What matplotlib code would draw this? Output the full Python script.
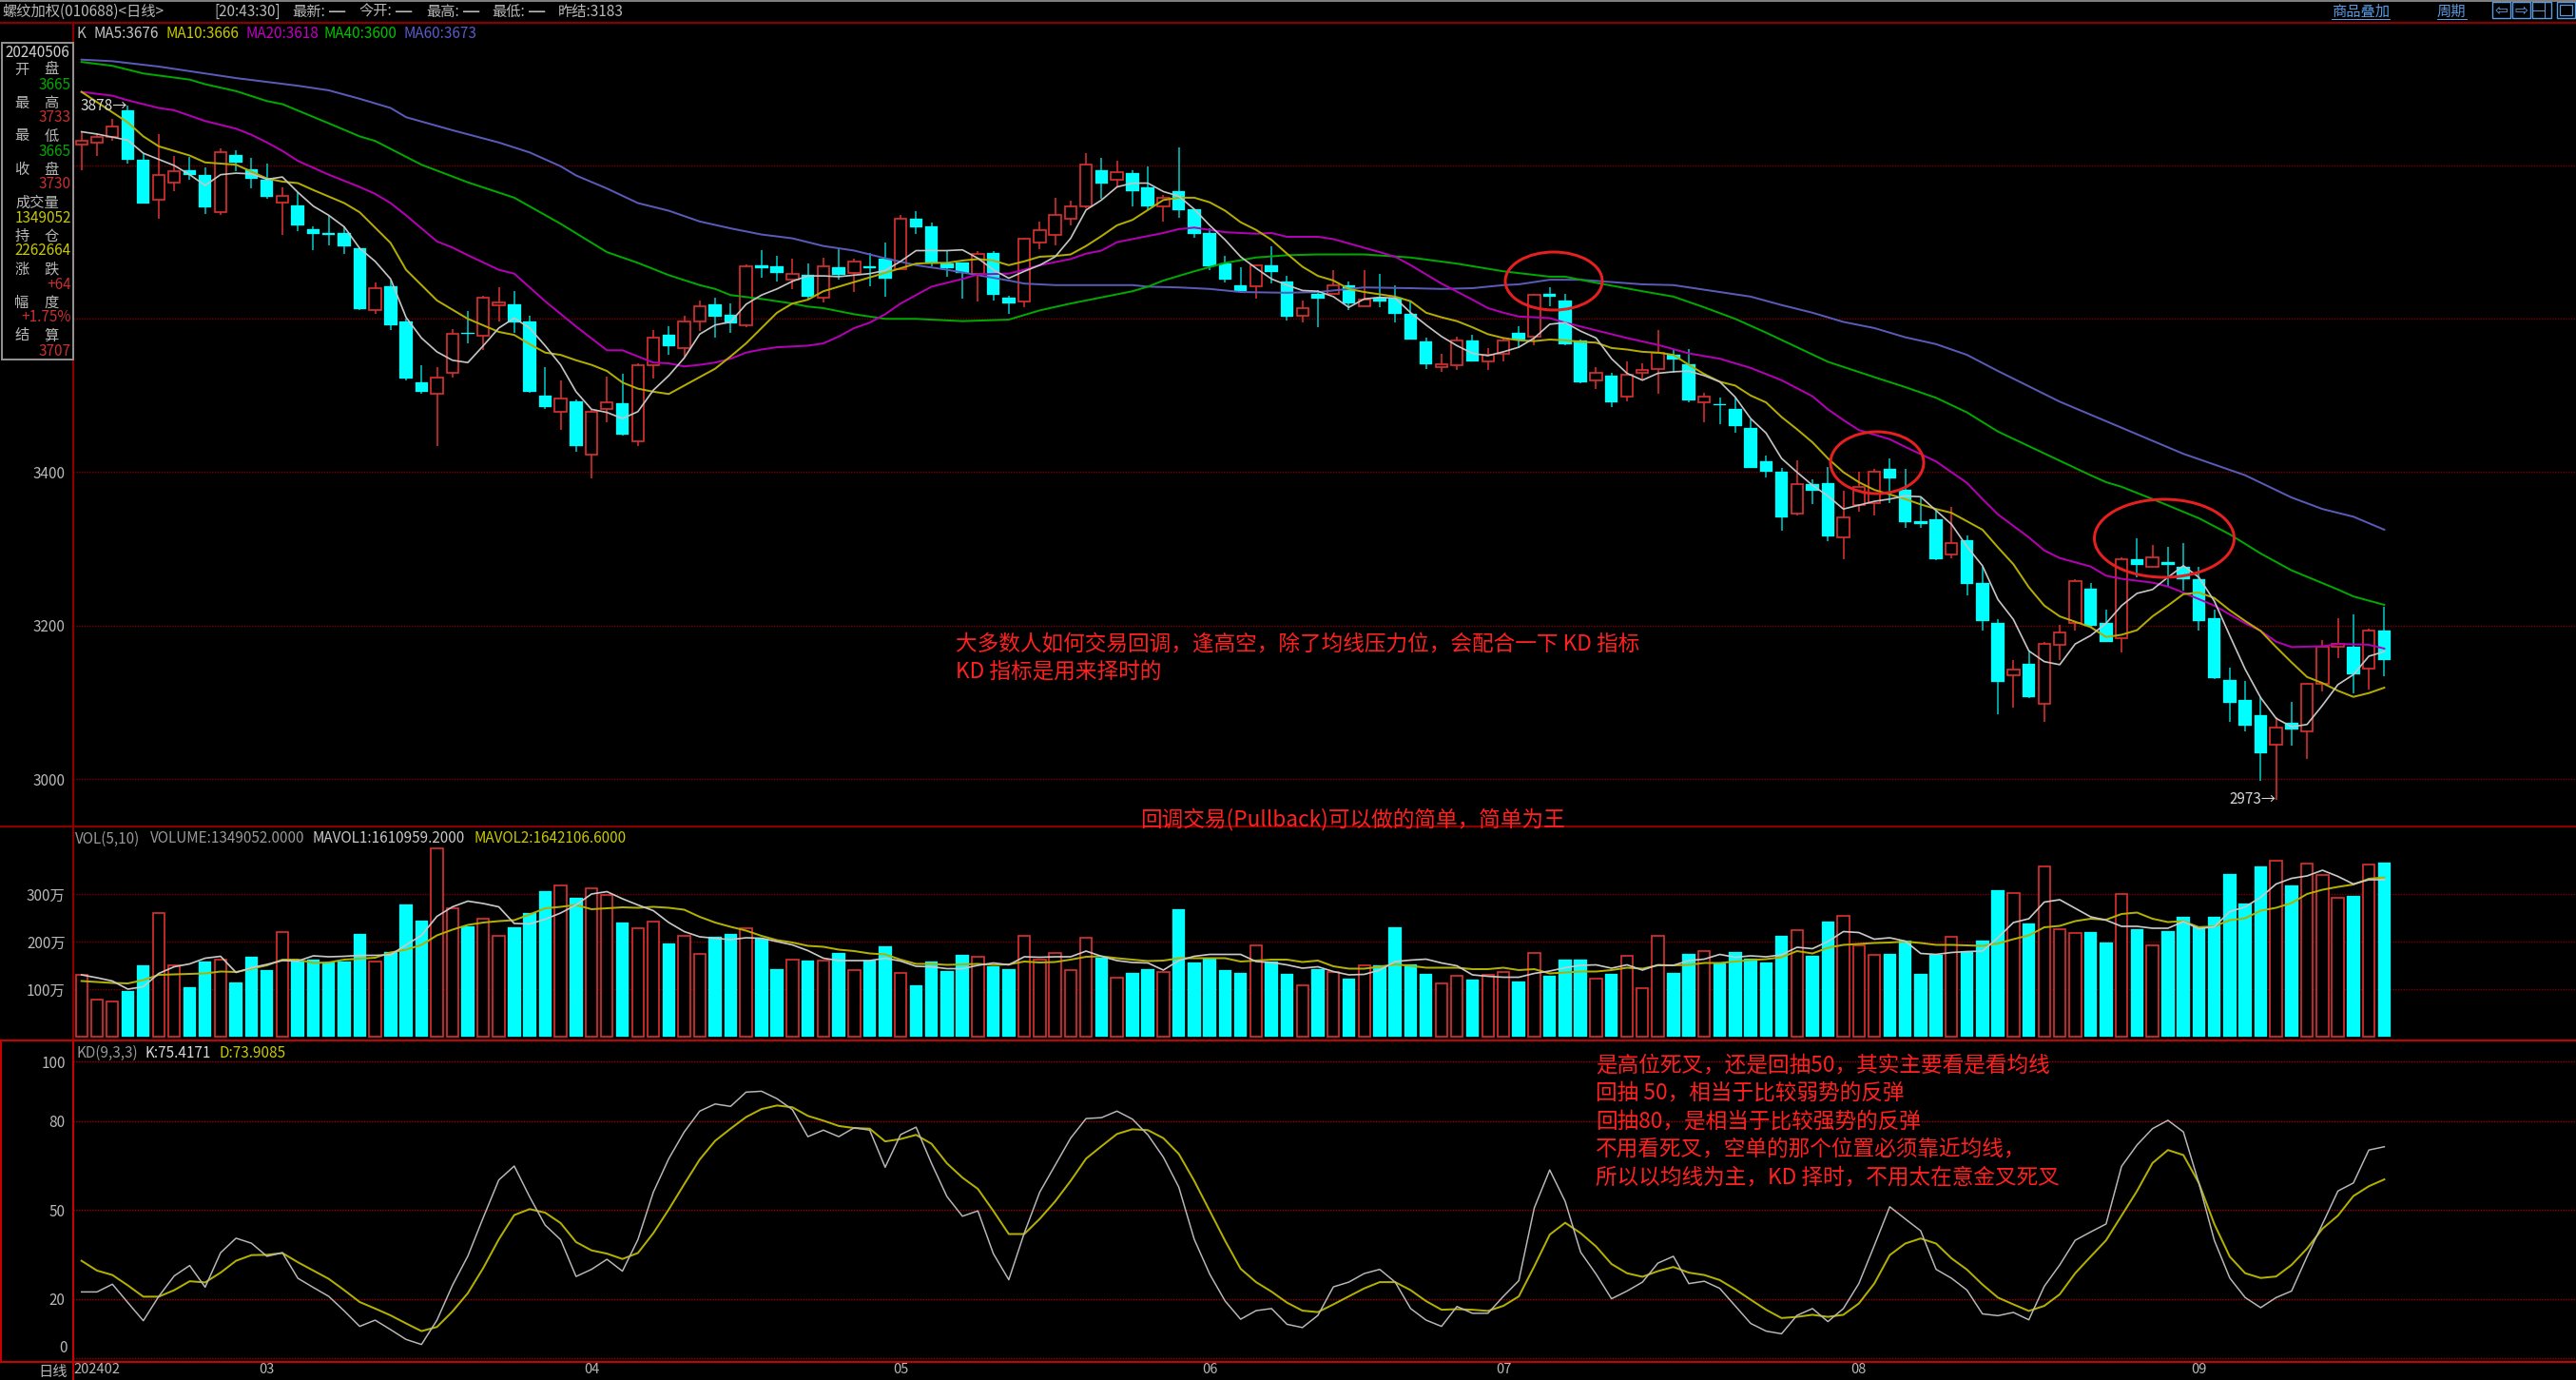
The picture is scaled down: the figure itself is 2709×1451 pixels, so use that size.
import matplotlib
matplotlib.use("Agg")
import matplotlib.pyplot as plt
from matplotlib.patches import Ellipse, Rectangle

FONT = ['Noto Sans CJK SC', 'DejaVu Sans']
plt.rcParams['font.family'] = FONT

# ---------- candles ----------
opens = [3827,3830,3837,3872,3808,3755,3778,3794,3787,3739,
         3814,3795,3782,3752,3748,3717,3712,3712,3692,3611,
         3642,3596,3517,3502,3529,3582,3578,3618,3619,3596,
         3500,3479,3492,3423,3482,3490,3440,3539,3579,3562,
         3597,3619,3605,3592,3670,3668,3651,3657,3627,3667,
         3660,3669,3678,3665,3730,3720,3672,3673,3659,3686,
         3627,3623,3699,3710,3730,3747,3794,3781,3790,3771,
         3747,3766,3743,3712,3672,3644,3642,3670,3649,3604,
         3633,3632,3644,3617,3628,3627,3607,3571,3537,3539,
         3572,3544,3555,3582,3577,3632,3624,3572,3520,3526,
         3498,3530,3535,3553,3541,3491,3489,3482,3458,3414,
         3401,3346,3385,3386,3315,3357,3360,3404,3377,3336,
         3339,3293,3311,3256,3204,3135,3150,3098,3175,3204,
         3248,3203,3183,3286,3276,3283,3277,3261,3210,3129,
         3103,3083,3045,3073,3062,3124,3172,3172,3144,3193]
closes = [3832,3837,3851,3807,3751,3788,3792,3787,3745,3817,
          3804,3783,3759,3760,3722,3711,3710,3694,3613,3640,
          3592,3522,3505,3524,3580,3580,3627,3621,3595,3505,
          3485,3496,3434,3479,3491,3449,3540,3575,3564,3597,
          3616,3603,3594,3668,3666,3660,3658,3629,3668,3657,
          3675,3666,3652,3730,3719,3672,3666,3660,3685,3631,
          3620,3704,3716,3735,3747,3801,3776,3791,3766,3747,
          3758,3742,3711,3669,3651,3636,3670,3661,3603,3614,
          3626,3644,3620,3625,3623,3606,3573,3541,3541,3572,
          3544,3553,3572,3573,3631,3629,3567,3517,3530,3491,
          3527,3533,3556,3547,3494,3499,3487,3460,3406,3400,
          3341,3385,3376,3316,3341,3381,3400,3392,3335,3333,
          3286,3307,3254,3206,3127,3143,3107,3176,3191,3258,
          3200,3179,3286,3279,3289,3279,3260,3206,3131,3099,
          3069,3034,3067,3065,3124,3173,3176,3136,3193,3155]
highs = [3844,3842,3861,3878,3816,3841,3813,3811,3797,3822,
         3820,3810,3802,3771,3765,3721,3734,3720,3693,3647,
         3650,3600,3540,3537,3587,3610,3630,3641,3636,3604,
         3537,3520,3495,3481,3525,3528,3542,3585,3590,3604,
         3624,3627,3620,3671,3690,3682,3678,3672,3680,3691,
         3679,3686,3700,3735,3740,3726,3689,3674,3688,3688,
         3630,3706,3727,3758,3754,3816,3810,3806,3794,3799,
         3761,3823,3743,3718,3682,3667,3670,3695,3656,3624,
         3637,3664,3649,3663,3658,3644,3623,3575,3555,3577,
         3579,3562,3575,3590,3633,3641,3632,3573,3537,3530,
         3545,3542,3585,3561,3560,3503,3497,3497,3469,3422,
         3405,3415,3391,3407,3376,3400,3404,3418,3404,3367,
         3352,3355,3317,3276,3208,3155,3168,3179,3201,3260,
         3256,3221,3289,3314,3305,3303,3308,3277,3221,3145,
         3128,3108,3081,3101,3124,3181,3209,3215,3196,3224]
lows = [3794,3812,3832,3802,3750,3730,3767,3781,3737,3736,
        3792,3770,3756,3710,3714,3689,3696,3685,3612,3607,
        3586,3520,3502,3434,3524,3568,3559,3596,3582,3503,
        3483,3455,3427,3392,3465,3448,3434,3522,3553,3551,
        3584,3575,3582,3589,3654,3649,3639,3625,3621,3651,
        3635,3643,3629,3665,3711,3668,3655,3626,3623,3624,
        3607,3615,3691,3696,3722,3744,3757,3771,3747,3742,
        3727,3732,3706,3663,3648,3636,3626,3646,3598,3595,
        3589,3632,3612,3617,3615,3595,3573,3535,3531,3533,
        3544,3533,3544,3562,3565,3617,3566,3516,3508,3485,
        3493,3520,3502,3530,3491,3465,3463,3451,3406,3393,
        3324,3344,3358,3310,3287,3349,3344,3360,3327,3327,
        3285,3288,3239,3193,3084,3093,3105,3074,3155,3193,
        3197,3179,3165,3263,3276,3252,3245,3193,3130,3075,
        3062,2998,2973,3043,3026,3114,3158,3112,3117,3134]

# ---------- price moving averages ----------
ma5 = [3844,3841,3837,3833,3816,3808,3800,3788,3774,3788,
       3790,3789,3782,3785,3765,3747,3735,3720,3692,3675,
       3652,3602,3575,3557,3546,3543,3565,3588,3601,3588,
       3565,3540,3505,3482,3478,3470,3479,3507,3526,3549,
       3580,3592,3596,3619,3631,3639,3649,3656,3656,3655,
       3657,3659,3663,3675,3689,3689,3689,3690,3679,3664,
       3653,3662,3670,3681,3705,3742,3755,3772,3777,3777,
       3766,3760,3743,3722,3703,3681,3666,3652,3644,3637,
       3636,3629,3615,3626,3628,3627,3608,3592,3577,3565,
       3555,3552,3557,3563,3575,3593,3595,3584,3575,3548,
       3529,3520,3529,3531,3532,3526,3518,3498,3470,3451,
       3418,3400,3383,3369,3352,3357,3362,3365,3369,3368,
       3350,3332,3303,3278,3234,3208,3167,3153,3149,3176,
       3187,3203,3226,3242,3247,3263,3278,3263,3232,3187,
       3143,3106,3079,3068,3071,3096,3123,3136,3160,3166]
ma10_idx = [0,3,4,5,7,8,10,12,13,14,15,17,18,20,21,23,25,27,28,29,30,31,32,33,34,35,36,37,38,39,
            40,41,42,43,44,45,46,47,48,49,50,51,52,53,54,55,56,57,58,59,60,61,62,63,64,65,66,67,68,69,
            70,71,72,73,74,75,76,77,78,79,80,81,82,83,84,85,86,87,88,89,90,91,92,93,94,95,96,97,98,99,
            100,101,102,103,104,105,106,107,108,109,110,111,112,113,114,115,116,117,118,119,
            120,121,122,123,124,125,126,127,128,129,130,131,132,133,134,135,136,137,138,139,
            140,141,142,143,144,145,146,147,148,149]
ma10_val = [3896,3856,3838,3825,3813,3804,3801,3783,3779,3777,3768,3751,3739,3699,3664,3624,3600,3583,3579,3567,3556,3553,3546,3540,3532,3517,3509,3505,3502,3513,
            3524,3535,3551,3568,3588,3608,3620,3625,3636,3642,3648,3654,3660,3666,3672,3673,3673,3676,3678,3676,3670,3675,3681,3682,3684,3695,3708,3722,3729,3742,
            3755,3758,3758,3752,3741,3726,3716,3703,3685,3668,3656,3650,3639,3635,3632,3629,3623,3608,3602,3597,3589,3580,3575,3572,3571,3573,3572,3570,3569,3562,
            3560,3557,3556,3553,3540,3528,3518,3513,3500,3491,3472,3456,3439,3418,3400,3387,3377,3371,3365,3358,
            3352,3347,3336,3325,3302,3280,3250,3226,3212,3205,3198,3185,3188,3194,3212,3226,3241,3243,3236,3220,
            3206,3193,3172,3152,3133,3125,3115,3107,3112,3119]
ma20_idx = [0,2,3,5,6,8,10,11,12,13,14,16,18,19,20,21,22,23,24,25,27,28,30,32,34,35,36,37,38,39,40,41,42,43,44,45,47,48,49,50,
            51,52,53,54,55,56,57,58,60,61,62,64,65,66,67,69,70,71,72,74,76,77,78,80,81,84,85,86,88,90,91,92,93,95,96,97,99,100,102,
            104,106,108,110,112,113,114,115,117,118,120,122,123,124,126,127,128,130,131,132,134,135,136,138,140,141,142,143,145,146,148,149]
ma20_val = [3896,3891,3885,3875,3872,3858,3848,3840,3830,3819,3806,3788,3772,3763,3751,3735,3718,3701,3693,3683,3664,3659,3623,3590,3559,3559,3551,3543,3542,3538,3540,3543,3548,3556,3560,3563,3565,3568,3577,3588,
            3595,3606,3620,3631,3642,3647,3652,3658,3659,3664,3670,3678,3685,3689,3700,3708,3712,3717,3719,3713,3711,3712,3707,3707,3704,3687,3681,3670,3646,3625,3614,3608,3603,3601,3595,3590,3580,3575,3566,
            3555,3548,3536,3520,3499,3482,3468,3455,3443,3433,3414,3386,3365,3345,3315,3298,3288,3277,3265,3261,3256,3251,3243,3226,3203,3193,3179,3172,3173,3176,3175,3170]
ma40_idx = [0,2,4,7,8,10,12,13,16,18,19,22,25,28,31,34,36,38,40,41,42,44,46,47,48,50,52,54,57,60,62,64,66,68,69,70,72,74,76,78,80,
            83,86,89,92,95,96,98,101,103,105,107,109,111,113,116,118,120,122,124,130,131,132,134,137,139,141,143,146,147,149]
ma40_val = [3935,3930,3920,3912,3906,3897,3884,3880,3855,3838,3832,3801,3778,3758,3724,3687,3673,3657,3644,3639,3631,3626,3620,3616,3614,3606,3600,3600,3597,3599,3611,3620,3628,3636,3642,3650,3662,3673,3680,3683,3684,
            3684,3680,3672,3662,3655,3655,3647,3636,3629,3615,3600,3582,3563,3544,3524,3511,3497,3478,3453,3396,3387,3381,3365,3340,3319,3294,3272,3247,3238,3227]
ma60_idx = [0,2,5,10,14,16,18,20,21,24,27,29,31,32,34,36,38,40,42,44,46,48,50,52,54,56,58,60,61,63,68,69,71,73,75,78,80,
            83,86,88,90,92,93,95,97,101,103,105,108,110,112,114,116,118,120,122,124,128,132,136,140,143,145,147,149]
ma60_val = [3938,3936,3929,3914,3904,3898,3887,3875,3863,3846,3830,3817,3799,3787,3770,3751,3741,3727,3718,3710,3705,3695,3689,3679,3670,3664,3657,3650,3646,3644,3644,3642,3641,3639,3635,3634,3635,
            3641,3640,3639,3640,3644,3645,3651,3651,3645,3644,3638,3629,3618,3608,3596,3588,3576,3567,3553,3532,3492,3458,3424,3396,3367,3352,3342,3325]

# ---------- volume, in units of 万 ----------
volume = [131,78,75,96,151,261,151,105,158,163,
          115,169,141,221,158,163,156,159,216,158,
          178,279,245,397,270,233,248,213,231,261,
          306,318,293,313,299,241,228,243,196,213,
          175,211,216,228,207,143,163,161,160,176,
          140,160,191,135,109,158,139,173,168,149,
          143,213,163,177,140,208,167,125,135,143,
          137,269,156,165,141,135,193,158,133,108,
          143,137,123,151,151,231,153,133,113,128,
          121,131,137,116,177,129,163,163,123,133,
          171,103,213,135,175,180,155,178,165,156,
          213,225,171,243,255,193,173,175,203,133,
          173,211,178,203,309,303,239,358,227,218,
          221,199,300,226,193,223,253,232,253,343,
          281,359,371,319,365,340,293,296,363,366]
mavol1 = [130,124,117,100,105,133,147,153,165,169,
          135,145,152,160,159,170,168,169,171,171,
          172,193,213,253,273,285,280,273,238,237,
          247,260,277,300,305,290,277,265,240,221,
          210,207,204,208,207,200,193,181,165,160,
          160,160,165,159,148,147,143,143,150,155,
          151,168,167,168,168,180,169,160,156,155,
          140,160,169,173,173,173,158,156,151,144,
          147,137,130,131,140,158,161,163,155,149,
          130,127,125,125,133,138,145,150,151,144,
          151,140,151,150,160,163,173,167,170,168,
          172,188,185,200,221,219,205,208,201,175,
          173,177,179,180,208,240,248,283,288,270,
          252,245,232,232,228,228,242,227,231,263,
          273,293,321,333,338,350,337,321,330,330]
mavol2 = [117,115,113,112,119,130,131,132,133,137,
          136,143,150,162,162,155,156,162,164,166,
          177,183,193,213,225,235,240,243,245,257,
          270,273,277,268,270,272,271,273,271,267,
          252,240,231,223,212,203,198,191,189,183,
          180,175,173,162,153,153,151,152,153,151,
          152,158,156,157,162,168,169,165,162,159,
          160,165,165,165,165,158,160,162,162,157,
          160,148,143,143,147,152,149,145,145,145,
          142,142,145,140,142,133,135,137,137,140,
          145,143,150,150,151,155,155,158,161,163,
          167,180,175,187,193,195,197,198,200,197,
          193,193,192,191,196,205,213,230,233,243,
          248,246,258,261,248,241,243,230,232,245,
          249,265,271,281,300,309,315,320,332,335]

# ---------- KD ----------
k_line = [22.4,22.4,25,18.8,12.7,20.9,27.8,31.3,24,35.6,
          40.5,38.8,34.4,35.6,27,23.9,20.9,16,10.8,12.9,
          9.7,6.4,4.7,12.9,24.6,34.5,47.5,60.1,64.8,54.4,
          44.9,40,27.6,30,33.4,29.4,40,56,67.3,76.3,
          83.3,85.7,84.9,89.7,90,87.5,83.8,74.7,76.9,74.7,
          77.7,76.9,64.4,75.4,77.9,65.7,54.5,47.9,49.7,35.3,
          26.5,42.2,56,65.1,74.2,80.8,81.1,83.3,80.6,75.3,
          67.8,57.7,40.1,28.4,19.3,13.2,16.1,16.8,11.5,10.4,
          14.5,24.1,25.7,28.6,30,25.7,16.8,12.9,10.8,17.5,
          15.2,15.2,20.9,26.2,50.7,63.5,52.9,35.8,28.4,20.1,
          22.7,25.7,32.1,34.4,25.2,26,23.6,17.7,11.8,9.2,
          8.3,14.5,16.8,12.4,16.8,25.2,38,51.1,47,43,
          30,27,23,15,14.4,15.5,13,24.3,31.5,39.8,
          42.6,45.3,64.7,71.9,77.4,80.2,76.3,59.1,39.8,27.1,
          20.5,17.1,20.5,22.7,34.3,45.3,56.4,59.1,70.2,71.3]
d_line = [32.9,29.6,28.1,24.6,20.8,20.8,23,26,25.6,28.9,
          32.9,34.8,34.9,35.5,32.4,29.6,26.8,23,19,16.8,
          14.5,11.8,9.2,10.6,15.8,22,30.5,40.1,48.3,50.3,
          49.1,45.6,39.2,36.4,35.3,33.5,35.5,42.2,50.2,58.7,
          67,73.3,77.4,81.3,84,85.2,84.6,81.7,80.1,78.3,
          77.6,77.4,73.1,73.9,75.3,72.3,65.7,60.9,57.1,49.7,
          41.9,41.9,47,52.9,59.8,67.3,71.5,75.6,77.2,76.9,
          74.2,68.9,59.8,49.7,39.6,30.2,25.7,22.5,18.8,16.1,
          15.6,18.2,20.9,23.6,25.7,25.7,23,19.3,16.4,16.6,
          16.4,16,17.7,20.9,31,41.7,45.7,42.2,37.7,31.8,
          28.7,27.5,29.4,30.8,28.9,28.1,26.4,23.3,19.8,16.4,
          13.6,14,14.7,14,14.7,18.5,25.2,34.8,38.7,40.4,
          38.7,33.7,29.9,24.9,20.5,18.2,16,17.7,21.6,28.7,
          34.3,39.8,48.1,56.4,65.8,70.2,68.5,59.1,45.3,34.3,
          28.7,27.1,27.6,31.5,37,43.7,48.1,54.7,58,60.3]

# ---------- ticks and labels ----------
price_grid = [3000,3200,3400,3600,3800]
price_labels = [3000,3200,3400]
vol_ticks = [100,200,300]
vol_labels = ['100万','200万','300万']
kd_grid = [0,20,50,80,100]
kd_labels = [20,50,80,100]
month_pos = [1,12,33,53,73,92,115,137]
month_lab = ['202402','03','04','05','06','07','08','09']

W, H = 2709, 1451
BG = '#000000'; GRID = '#7a0000'; FRAME = '#8a0000'; BRIGHT = '#c80000'
UP = '#d83030'; DOWN = '#00ffff'; WICK_DOWN = '#00c4c4'; TXT = '#b8b8b8'
C5, C10, C20, C40, C60 = '#c4c4c4', '#b4ac00', '#b400b4', '#00a800', '#5a5ab8'
PX = 0.72  # one pixel in points

fig = plt.figure(figsize=(W/100, H/100), dpi=100, facecolor=BG)

def panel(y0, y1):
    ax = fig.add_axes([77/W, 1 - y1/H, (W-77)/W, (y1-y0)/H], facecolor=BG)
    for s in ax.spines.values():
        s.set_visible(False)
    ax.set_xlim((77-85.7)/16.253, (W-85.7)/16.253)
    ax.tick_params(axis='both', length=0, colors=TXT, labelsize=11, pad=6)
    ax.set_xticks([])
    return ax

n = len(closes)
xs = list(range(n))
is_up = [c >= o for o, c in zip(opens, closes)]

# main panel
ax = panel(24, 869)
ax.set_ylim(3000 - 50*1.24031, 3000 + 795*1.24031)
ax.set_yticks(price_labels)
for v in price_grid:
    ax.axhline(v, color=GRID, lw=1.4*PX, ls=(0, (1, 1)), zorder=1)
ax.vlines(xs, lows, highs, colors=[UP if u else WICK_DOWN for u in is_up], lw=1.6*PX, zorder=2)
for x, o, c, u in zip(xs, opens, closes, is_up):
    lo, hi = min(o, c), max(o, c)
    if u:
        ax.bar(x, hi-lo, bottom=lo, width=0.76, facecolor=BG, edgecolor=UP, lw=1.7*PX, zorder=3)
    else:
        ax.bar(x, hi-lo, bottom=lo, width=0.83, facecolor=DOWN, edgecolor=DOWN, lw=0.3*PX, zorder=3)
ax.plot(ma60_idx, ma60_val, color=C60, lw=2*PX, zorder=4)
ax.plot(ma40_idx, ma40_val, color=C40, lw=2*PX, zorder=4)
ax.plot(ma20_idx, ma20_val, color=C20, lw=2*PX, zorder=4)
ax.plot(ma10_idx, ma10_val, color=C10, lw=2*PX, zorder=5)
ax.plot(xs, ma5, color=C5, lw=1.7*PX, zorder=6)
ax.text(3, max(highs), '3878→', color='#d8d8d8', fontsize=11, ha='right', va='center', zorder=7)
ax.text(142, min(lows), '2973→', color='#d8d8d8', fontsize=11, ha='right', va='center', zorder=7)

# volume panel
axv = panel(869, 1094)
axv.set_ylim(-8, 442)
axv.set_yticks(vol_ticks, vol_labels)
for v in vol_ticks:
    axv.axhline(v, color=GRID, lw=1.4*PX, ls=(0, (1, 1)), zorder=1)
for x, v, u in zip(xs, volume, is_up):
    if u:
        axv.bar(x, v, width=0.76, facecolor=BG, edgecolor=UP, lw=1.7*PX, zorder=3)
    else:
        axv.bar(x, v, width=0.83, facecolor=DOWN, edgecolor=DOWN, lw=0.3*PX, zorder=3)
axv.plot(xs, mavol2, color='#b4b000', lw=2*PX, zorder=4)
axv.plot(xs, mavol1, color='#c8c8c8', lw=1.7*PX, zorder=5)

# KD panel
axk = panel(1094, 1432)
axk.set_ylim(-1.18, 107.1)
axk.set_yticks(kd_labels)
for v in kd_grid:
    axk.axhline(v, color='#a00000', lw=1.4*PX, ls=(0, (1, 1)), zorder=1)
axk.plot(xs, d_line, color='#b4b000', lw=2*PX, zorder=3)
axk.plot(xs, k_line, color='#b8b8b8', lw=1.5*PX, zorder=4)
axk.set_xticks(month_pos, month_lab)
axk.tick_params(axis='x', pad=1, labelsize=10.5)

# chrome overlay in pixel coordinates
ov = fig.add_axes([0, 0, 1, 1], facecolor='none', zorder=20)
ov.set_xlim(0, W); ov.set_ylim(H, 0); ov.axis('off')

def T(x, y, s, c=TXT, ha='left', fs=11, **kw):
    ov.text(x, y, s, color=c, ha=ha, va='center', fontsize=fs, family=FONT, **kw)

ov.plot([0, W], [0.5, 0.5], color='#a8a8a8', lw=1.5*PX)
ov.plot([0, W], [24, 24], color=FRAME, lw=2.2*PX)
ov.plot([0, W], [869, 869], color=FRAME, lw=2.2*PX)
ov.plot([0, W], [1094, 1094], color=BRIGHT, lw=2*PX)
ov.plot([0, W], [1432, 1432], color=BRIGHT, lw=2*PX)
ov.plot([77, 77], [24, 1094], color=FRAME, lw=2.2*PX)
ov.plot([77, 77], [1094, H], color=BRIGHT, lw=2*PX)
ov.plot([1, 1], [1094, 1432], color=BRIGHT, lw=2*PX)

# title row
T(2, 12, '螺纹加权(010688)<日线>')
T(225, 12, '[20:43:30]')
for x, s in zip([307, 377, 448, 517], ['最新:', '今开:', '最高:', '最低:']):
    T(x, 12, s)
    T(x + 38, 12, '—', fs=15.5)
T(587, 12, '昨结:3183')
BLUE = '#5a9ae0'
T(2452, 12, '商品叠加', BLUE)
T(2563, 12, '周期', BLUE)
ov.plot([2452, 2513], [20, 20], color=BLUE, lw=1*PX)
ov.plot([2563, 2594], [20, 20], color=BLUE, lw=1*PX)
for x0, x1 in [(2621, 2640), (2642, 2661), (2663, 2683), (2689, 2708)]:
    ov.add_patch(Rectangle((x0, 2), x1-x0, 17, fill=False, ec=BLUE, lw=1.4*PX))
ov.text(2630.5, 10.5, '⇦', color=BLUE, ha='center', va='center', fontsize=12, family='DejaVu Sans')
ov.text(2651.5, 10.5, '⇨', color=BLUE, ha='center', va='center', fontsize=12, family='DejaVu Sans')
ov.plot([2676, 2676], [2, 19], color=BLUE, lw=1*PX)
ov.plot([2663, 2676], [10.5, 10.5], color=BLUE, lw=1*PX)
ov.add_patch(Rectangle((2692, 5), 13, 11, fill=False, ec=BLUE, lw=1.2*PX))

# legends
T(80, 36, 'K')
for x, s, c in zip([99, 174, 258, 341, 425],
                   ['MA5:3676', 'MA10:3666', 'MA20:3618', 'MA40:3600', 'MA60:3673'],
                   [C5, '#c8c800', '#c000c0', '#00c000', '#5a5ac8']):
    T(x, 36, s, c)
for x, s, c in zip([79, 158, 328, 498],
                   ['VOL(5,10)', 'VOLUME:1349052.0000', 'MAVOL1:1610959.2000', 'MAVOL2:1642106.6000'],
                   ['#989898', '#989898', '#c8c8c8', '#c8c800']):
    T(x, 882, s, c)
for x, s, c in zip([80, 153, 230], ['KD(9,3,3)', 'K:75.4171', 'D:73.9085'], ['#989898', '#d8d8d8', '#c8c800']):
    T(x, 1107, s, c)
T(71, 1418, '0', ha='right')
T(56, 1442, '日线', ha='center')

# info box
ov.add_patch(Rectangle((2, 45), 75, 333, fc=BG, ec='#909090', lw=2*PX, zorder=2))
T(39, 55, '20240506', '#d0d0d0', ha='center', zorder=3)
GREEN = '#00a800'; RED = '#c83030'; YEL = '#c8c800'
rows = [(73, '开', '盘'), (108, '最', '高'), (143, '最', '低'), (178, '收', '盘'),
        (248, '持', '仓'), (283, '涨', '跌'), (318, '幅', '度'), (353, '结', '算')]
for y, a, b in rows:
    T(23, y, a, ha='center', zorder=3)
    T(54, y, b, ha='center', zorder=3)
T(39, 213, '成交量', ha='center', zorder=3)
vals = [(89, '3665', GREEN), (124, '3733', RED), (159, '3665', GREEN), (194, '3730', RED),
        (229, '1349052', YEL), (264, '2262664', YEL), (299, '+64', RED), (334, '+1.75%', RED), (369, '3707', RED)]
for y, s, c in vals:
    T(75, y, s, c, ha='right', zorder=3)

# annotations
ANN = '#ff2020'
for cx, cy, w, h in [(1634, 295.5, 102, 61), (1974, 486.5, 98, 65), (2276, 566, 147, 82)]:
    ov.add_patch(Ellipse((cx, cy), w, h, fill=False, ec='#e62020', lw=3*PX, zorder=6))
T(1005, 677, '大多数人如何交易回调，逢高空，除了均线压力位，会配合一下 KD 指标', ANN, fs=16.3, zorder=6)
T(1005, 706, 'KD 指标是用来择时的', ANN, fs=16.3, zorder=6)
T(1199, 861, '回调交易(Pullback)可以做的简单，简单为王', ANN, fs=16.3, zorder=6)
kd_notes = ['是高位死叉，还是回抽50，其实主要看是看均线',
            '回抽 50，相当于比较弱势的反弹',
            '回抽80，是相当于比较强势的反弹',
            '不用看死叉，空单的那个位置必须靠近均线，',
            '所以以均线为主，KD 择时，不用太在意金叉死叉']
for y, s in zip([1120, 1149, 1179, 1208, 1238], kd_notes):
    T(1678, y, s, ANN, fs=16.3, zorder=6)

fig.savefig('out.png', dpi=100, facecolor=BG)
